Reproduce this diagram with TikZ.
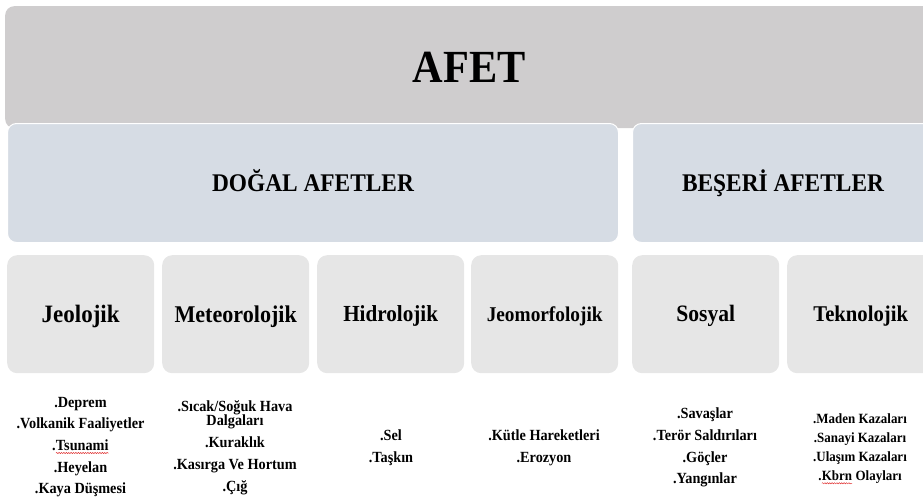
\documentclass[tikz,border=0pt]{standalone}
\usepackage{fontspec}
\setmainfont{Liberation Serif}[FakeStretch=0.92]
\usetikzlibrary{decorations.pathmorphing}
\definecolor{afetgray}{HTML}{CFCDCE}
\definecolor{rowblue}{HTML}{D6DCE4}
\definecolor{rowgray}{HTML}{E6E6E6}
\definecolor{wavered}{HTML}{E03030}
\newcommand\redwave[1]{\tikz[baseline=(wv.base)]{\node[inner sep=0pt,outer sep=0pt,text height=,text depth=](wv){#1};
  \draw[wavered, line width=0.5pt, decorate, decoration={snake, amplitude=0.6pt, segment length=2.4pt}]
    ([yshift=-2.6pt]wv.base west) -- ([yshift=-2.6pt]wv.base east);}}
\newcommand\fsz[1]{\bfseries\fontsize{#1}{#1}\selectfont}
\begin{document}
\begin{tikzpicture}[x=1pt,y=-1pt,
  topbox/.style={fill=afetgray, rounded corners=9pt, anchor=north west, inner sep=0pt, text depth=0pt},
  midbox/.style={fill=rowblue, draw=white, line width=1pt, rounded corners=9pt, anchor=north west, inner sep=0pt, text depth=0pt},
  catbox/.style={fill=rowgray, rounded corners=10pt, anchor=north west, inner sep=0pt, text depth=0pt,
                 minimum width=147pt, minimum height=118pt},
  lst/.style={font=\bfseries\fontsize{15.5}{21.7}\selectfont, align=center, inner sep=0pt, text=black}]
\useasboundingbox (0,0) rectangle (923,498);
\node[topbox, minimum width=928pt, minimum height=122pt,
      font=\fsz{46}, text height=30.4pt] (afet) at (5,6) {AFET};
\node[midbox, minimum width=611pt, minimum height=119pt,
      font=\fsz{25.4}, text height=16.5pt] (dogal) at (7,123) {DOĞAL AFETLER};
\node[midbox, minimum width=301pt, minimum height=119pt,
      font=\fsz{25.4}, text height=16.5pt] (beseri) at (632,123) {BEŞERİ AFETLER};
\node[catbox, font=\fsz{25}, text height=16.5pt] (jeo) at (7,255) {Jeolojik};
\node[catbox, font=\fsz{24}, text height=15.9pt] (met) at (162,255) {Meteorolojik};
\node[catbox, font=\fsz{23}, text height=15.2pt] (hid) at (317,255) {Hidrolojik};
\node[catbox, font=\fsz{21}, text height=13.9pt] (jmf) at (471,255) {Jeomorfolojik};
\node[catbox, font=\fsz{23.5}, text height=15.5pt] (sos) at (632,255) {Sosyal};
\node[catbox, font=\fsz{22.5}, text height=14.9pt] (tek) at (787,255) {Teknolojik};
\node[lst] (ljeo) at (80.5,447) {.Deprem\\ .Volkanik Faaliyetler\\ .\redwave{Tsunami}\\ .Heyelan\\ .Kaya Düşmesi};
\node[lst] (lmet) at (235,447.5) {.Sıcak/Soğuk Hava\\[-7.2pt] Dalgaları\\ .Kuraklık\\ .Kasırga Ve Hortum\\ .Çığ};
\node[lst] (lhid) at (391,447.5) {.Sel\\ .Taşkın};
\node[lst] (ljmf) at (544,447.5) {.Kütle Hareketleri\\ .Erozyon};
\node[lst] (lsos) at (705,447.5) {.Savaşlar\\ .Terör Saldırıları\\ .Göçler\\ .Yangınlar};
\node[lst, font=\bfseries\fontsize{14.1}{19}\selectfont] (ltek) at (860,449) {.Maden Kazaları\\ .Sanayi Kazaları\\ .Ulaşım Kazaları\\ .\redwave{Kbrn} Olayları};
\end{tikzpicture}
\end{document}
